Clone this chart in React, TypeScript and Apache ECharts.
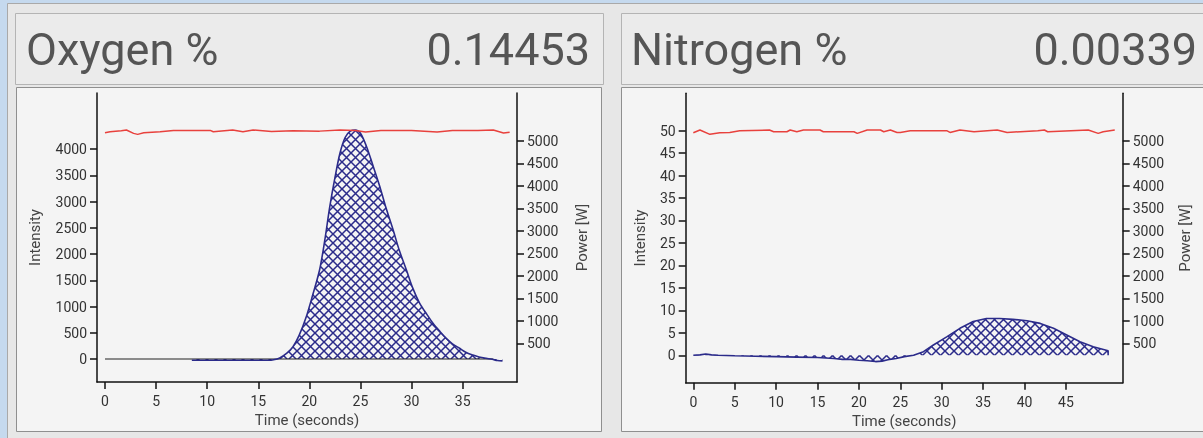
import React, { useEffect, useRef } from "react";
import * as echarts from "echarts";

// ---------- DATA ----------
const O2_TIME = [8.5, 10, 12, 14, 16, 16.5, 17.1, 17.8, 18.4, 19.0, 19.7, 20.3, 21.0, 21.5, 22.0, 22.5, 23.0, 23.5, 24.0, 24.5, 25.0, 25.6, 26.2, 26.9, 27.5, 28.2, 28.8, 29.5, 30.1, 30.8, 31.5, 32.1, 32.8, 33.4, 34.0, 34.7, 35.3, 36.0, 36.6, 37.3, 37.9, 38.4, 38.9];
const O2_INTENSITY = [-25, -25, -25, -25, -25, -15, 20, 110, 234, 450, 806, 1200, 1695, 2250, 2901, 3450, 3924, 4220, 4340, 4362, 4300, 4044, 3700, 3282, 2880, 2457, 2070, 1695, 1360, 1061, 850, 680, 520, 394, 290, 204, 130, 76, 40, 13, -5, -30, -35];
const O2_BASELINE_TIME = [0, 38];
const O2_POWER_TIME = [0, 0.5, 1.6, 2.1, 2.8, 3.2, 3.8, 5.4, 6.7, 10.3, 10.6, 12.5, 13.5, 14.5, 16.3, 18.4, 21, 23, 24.5, 25.5, 27, 30, 32.5, 34, 36.5, 38, 39, 39.6];
const O2_POWER = [5184, 5206, 5229, 5244, 5170, 5148, 5184, 5206, 5236, 5236, 5206, 5244, 5206, 5244, 5214, 5230, 5220, 5244, 5236, 5200, 5236, 5236, 5200, 5236, 5236, 5244, 5180, 5195];

const N2_TIME = [0, 0.8, 1.5, 2.2, 3, 5, 7.5, 10, 12.5, 15, 17, 18, 19, 20, 21, 22, 22.8, 23.5, 24.5, 25.5, 26.6, 27.8, 29, 30.6, 32.2, 33.8, 35.4, 37.0, 38.6, 40.3, 41.9, 43.5, 45.1, 46.7, 48.3, 50.1, 50.1];
const N2_INTENSITY = [0, 0.1, 0.3, 0.1, 0, -0.1, -0.2, -0.3, -0.4, -0.5, -0.7, -0.9, -0.9, -1.1, -1.2, -1.4, -1.3, -1.0, -0.7, -0.3, 0, 0.8, 2.3, 4.1, 6.0, 7.5, 8.2, 8.2, 8.0, 7.7, 7.1, 6.0, 4.5, 3.0, 1.9, 1.0, 0];
const N2_POWER_TIME = [0, 0.8, 2.0, 3.2, 4.4, 5.6, 9.2, 9.7, 11.3, 11.7, 12.5, 13.3, 15.3, 15.7, 19.4, 19.8, 21, 22.6, 23, 23.8, 24.6, 25, 26.2, 30.6, 31, 32.2, 33.9, 36.7, 37.9, 41.6, 42.4, 42.8, 47.7, 48.9, 49.5, 50.9];
const N2_POWER = [5184, 5244, 5148, 5184, 5190, 5229, 5244, 5206, 5206, 5244, 5206, 5244, 5244, 5206, 5206, 5170, 5244, 5244, 5206, 5244, 5190, 5190, 5229, 5229, 5190, 5244, 5206, 5244, 5190, 5229, 5244, 5206, 5244, 5170, 5206, 5244];

const O2_X_TICKS = [0, 5, 10, 15, 20, 25, 30, 35];
const N2_X_TICKS = [0, 5, 10, 15, 20, 25, 30, 35, 40, 45];
const O2_Y_TICKS = [0, 500, 1000, 1500, 2000, 2500, 3000, 3500, 4000];
const N2_Y_TICKS = [0, 5, 10, 15, 20, 25, 30, 35, 40, 45, 50];
const POWER_TICKS = [500, 1000, 1500, 2000, 2500, 3000, 3500, 4000, 4500, 5000];

const TITLES = ["Oxygen %", "Nitrogen %"];
const VALUES = ["0.14453", "0.00339"];
const X_NAME = "Time (seconds)";
const Y_NAME = "Intensity";
const P_NAME = "Power [W]";

const zip = (xs: number[], ys: number[]) => xs.map((x, i) => [x, ys[i]]);

const FONT = "Roboto, 'DejaVu Sans', sans-serif";
const BLUE = "#2b2b8a";
const RED = "#e8413d";

function makeHatch() {
  const s = 9;
  const c = document.createElement("canvas");
  c.width = s;
  c.height = s;
  const ctx = c.getContext("2d")!;
  ctx.strokeStyle = BLUE;
  ctx.lineWidth = 1.5;
  ctx.beginPath();
  ctx.moveTo(0, 0);
  ctx.lineTo(s, s);
  ctx.moveTo(s, 0);
  ctx.lineTo(0, s);
  ctx.stroke();
  return c;
}

const plain = (v: number) => String(v);

function xAxis(gridIndex: number, min: number, max: number, ticks: number[]) {
  return {
    gridIndex,
    type: "value",
    min,
    max,
    name: X_NAME,
    nameLocation: "middle",
    nameGap: 30,
    nameTextStyle: { fontFamily: FONT, fontSize: 15, color: "#444" },
    axisLine: { onZero: false, lineStyle: { color: "#111", width: 1.5 } },
    axisTick: { length: 7, customValues: ticks, lineStyle: { color: "#111", width: 1.5 } },
    axisLabel: { customValues: ticks, formatter: plain, margin: 12, fontFamily: FONT, fontSize: 14, color: "#333" },
    splitLine: { show: false },
  };
}

function yAxis(gridIndex: number, position: string, min: number, max: number, ticks: number[], name: string, nameGap: number) {
  return {
    gridIndex,
    type: "value",
    position,
    min,
    max,
    name,
    nameLocation: "middle",
    nameRotate: 90,
    nameGap,
    nameTextStyle: { fontFamily: FONT, fontSize: 15, color: "#444" },
    axisLine: { show: true, onZero: false, lineStyle: { color: "#111", width: 1.5 } },
    axisTick: { show: true, length: 7, customValues: ticks, lineStyle: { color: "#111", width: 1.5 } },
    axisLabel: { customValues: ticks, formatter: plain, margin: 10, fontFamily: FONT, fontSize: 14, color: "#333" },
    splitLine: { show: false },
  };
}

export default function App() {
  const ref = useRef<HTMLDivElement>(null);
  useEffect(() => {
    document.body.style.margin = "0";
    const chart = echarts.init(ref.current!, undefined, { renderer: "svg" });
    const hatch = makeHatch();
    const area = { color: { image: hatch, repeat: "repeat" }, opacity: 1 };
    const rect = (x: number, y: number, w: number, h: number, fill: string, stroke: string) => ({
      type: "rect",
      z: -10,
      silent: true,
      shape: { x, y, width: w, height: h },
      style: { fill, stroke, lineWidth: 1 },
    });
    const text = (x: number, y: number, t: string, align: string) => ({
      type: "text",
      z: 10,
      x,
      y,
      style: { text: t, fill: "#555", font: `45px ${FONT}`, textAlign: align, textVerticalAlign: "middle" },
    });
    const option = {
      animation: false,
      graphic: [
        rect(0, 0, 1203, 438, "#c5d9ee", "none"),
        rect(7.5, 3.5, 1200, 440, "#e7e7e7", "#a9a9a9"),
        rect(15.5, 13.5, 588, 71, "#ebebeb", "#b4b4b4"),
        rect(16.5, 87.5, 585, 344, "#f4f4f4", "#8f8f8f"),
        rect(621.5, 13.5, 590, 71, "#ebebeb", "#b4b4b4"),
        rect(621.5, 87.5, 590, 344, "#f4f4f4", "#8f8f8f"),
        text(26, 49, TITLES[0], "left"),
        text(590, 49, VALUES[0], "right"),
        text(631, 49, TITLES[1], "left"),
        text(1197, 49, VALUES[1], "right"),
      ],
      grid: [
        { left: 97, top: 93, width: 420, height: 289 },
        { left: 685.7, top: 93.3, width: 437, height: 289.4 },
      ],
      xAxis: [xAxis(0, -0.78, 40.32, O2_X_TICKS), xAxis(1, -0.92, 51.86, N2_X_TICKS)],
      yAxis: [
        yAxis(0, "left", -438, 5067, O2_Y_TICKS, Y_NAME, 55),
        yAxis(0, "right", -360, 6068, POWER_TICKS, P_NAME, 57),
        yAxis(1, "left", -6.1, 58.3, N2_Y_TICKS, Y_NAME, 38),
        yAxis(1, "right", -376, 6061, POWER_TICKS, P_NAME, 55),
      ],
      series: [
        {
          type: "line",
          xAxisIndex: 0,
          yAxisIndex: 0,
          data: O2_BASELINE_TIME.map((t) => [t, 0]),
          symbol: "none",
          lineStyle: { color: "#222", width: 1.2 },
        },
        {
          type: "line",
          xAxisIndex: 0,
          yAxisIndex: 0,
          data: zip(O2_TIME, O2_INTENSITY),
          symbol: "none",
          smooth: 0.3,
          lineStyle: { color: BLUE, width: 1.6 },
          areaStyle: area,
        },
        {
          type: "line",
          xAxisIndex: 0,
          yAxisIndex: 1,
          data: zip(O2_POWER_TIME, O2_POWER),
          symbol: "none",
          lineStyle: { color: RED, width: 1.5 },
        },
        {
          type: "line",
          xAxisIndex: 1,
          yAxisIndex: 2,
          data: zip(N2_TIME, N2_INTENSITY),
          symbol: "none",
          lineStyle: { color: BLUE, width: 1.6 },
          areaStyle: area,
        },
        {
          type: "line",
          xAxisIndex: 1,
          yAxisIndex: 3,
          data: zip(N2_POWER_TIME, N2_POWER),
          symbol: "none",
          lineStyle: { color: RED, width: 1.5 },
        },
      ],
    };
    chart.setOption(option as any);
    return () => chart.dispose();
  }, []);
  return <div ref={ref} style={{ position: "fixed", left: 0, top: 0, width: 1203, height: 438 }} />;
}
